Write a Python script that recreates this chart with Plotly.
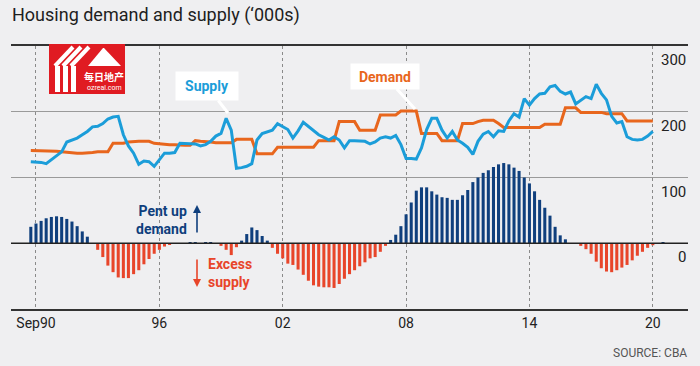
import plotly.graph_objects as go
import pandas as pd

# ---------------- data ----------------
# quarterly, first value = Jun 1990
supply = [124, 124, 123, 121, 127, 133, 139, 154, 157, 160, 165,
          170, 177, 178, 182, 189, 192, 193, 165, 148, 137,
          120, 125, 124, 117, 128, 137, 137, 138, 152, 152,
          152, 151, 148, 150, 155, 163, 167, 190, 172, 114,
          115, 117, 121, 157, 167, 170, 172, 182, 177, 173,
          160, 171, 184, 178, 172, 165, 161, 157, 162, 157,
          145, 156, 156, 156, 155, 151, 154, 160, 162, 160,
          164, 150, 129, 129, 128, 145, 173, 190, 190, 172,
          160, 170, 157, 152, 146, 135, 155, 166, 170, 162,
          171, 170, 186, 197, 192, 220, 210, 220, 227, 228,
          238, 240, 231, 227, 230, 212, 218, 223, 220, 242,
          228, 218, 193, 183, 185, 162, 158, 157, 158, 163, 170]

demand = [141, 141, 141, 141, 141, 140, 139, 138, 137, 137, 137,
          137, 138, 139, 139, 139, 152, 152, 152, 154, 155,
          155, 155, 155, 152, 151, 151, 150, 150, 149, 149,
          149, 156, 155, 155, 154, 153, 153, 153, 153, 158,
          158, 158, 158, 136, 136, 136, 136, 146, 146, 146,
          146, 146, 146, 146, 146, 156, 156, 156, 156, 185,
          185, 185, 185, 172, 172, 172, 172, 195, 195, 195,
          195, 201, 201, 201, 201, 167, 167, 167, 167, 156,
          156, 156, 156, 182, 182, 182, 185, 187, 187, 187,
          182, 176, 176, 176, 176, 176, 176, 176, 176, 181,
          181, 181, 181, 206, 206, 206, 199, 199, 199, 199,
          199, 197, 197, 197, 197, 186, 186, 186, 186, 186, 186]

# pent-up demand / excess supply, quarterly from Jun 1990
gap = [25, 30, 34, 38, 40, 41, 40, 37, 33, 26, 18, 10,
       0,
       -10, -21, -34, -44, -52, -53, -53, -47, -41, -32, -24, -16, -10, -5, -2,
       0, 0, 0, 1, 1, 0, 1, 1, 0,
       -4, -10, -18, -6,
       4, 14, 24, 20, 11, 4,
       -7, -16, -23, -31, -33, -40, -48, -57, -64, -66, -67, -67, -68, -62,
       -54, -47, -41, -35, -29, -23, -21, -13, -4,
       5, 13, 26, 44, 62, 80, 85, 85, 79, 74,
       70, 69, 66, 66, 73, 81, 93, 100, 107, 111,
       116, 120, 122, 120, 115, 110, 100, 91, 79, 66,
       54, 42, 25, 12, 6,
       0, 0,
       -4, -9, -16, -28, -38, -43, -44, -41, -37, -33, -26, -19, -13, -7, -3,
       0, 1]

tick_dates = ["1990-09-01", "1996-09-01", "2002-09-01", "2008-09-01", "2014-09-01", "2020-09-01"]
tick_labels = ["Sep90", "96", "02", "08", "14", "20"]
y_labels = [300, 200, 100, 0]

line_dates = pd.date_range("1990-06-01", periods=len(supply), freq="3MS")
bar_dates = pd.date_range("1990-06-01", periods=len(gap), freq="3MS")

# ---------------- style ----------------
BG = "#efeff1"
BLUE_LINE = "#1b9dd9"
ORANGE = "#e8661d"
BAR_BLUE = "#0f3f7d"
BAR_RED = "#e8452a"
FONT = "Roboto"

W, H = 700, 366
L, R, T, B = 11, 12, 46, 57
PW, PH = W - L - R, H - T - B


def px(xp):
    return (xp - L) / PW


def py(yp):
    return (H - B - yp) / PH


fig = go.Figure()

fig.add_trace(go.Bar(
    x=bar_dates, y=gap,
    marker_color=[BAR_BLUE if v >= 0 else BAR_RED for v in gap],
    marker_line_width=0, hoverinfo="skip", showlegend=False))

fig.add_trace(go.Scatter(
    x=line_dates, y=demand, mode="lines",
    line=dict(color=ORANGE, width=3), showlegend=False))

fig.add_trace(go.Scatter(
    x=line_dates, y=supply, mode="lines",
    line=dict(color=BLUE_LINE, width=3), showlegend=False))

annotations = []

# title
annotations.append(dict(xref="paper", yref="paper", x=px(10), y=py(15),
                        xanchor="left", yanchor="middle", showarrow=False,
                        text="Housing demand and supply (\u2018000s)",
                        font=dict(family=FONT, size=18, color="#1e1e1e")))
# source
annotations.append(dict(xref="paper", yref="paper", x=px(689), y=py(353),
                        xanchor="right", yanchor="middle", showarrow=False,
                        text="SOURCE: CBA",
                        font=dict(family=FONT, size=12, color="#555")))
# y labels
for v in y_labels:
    annotations.append(dict(xref="paper", yref="y", x=1.0, y=v,
                            xanchor="right", yanchor="top", yshift=-3,
                            showarrow=False, text=str(v),
                            font=dict(family=FONT, size=15, color="#222")))

# Supply label
annotations.append(dict(xref="paper", yref="paper", x=px(228), y=py(113),
                        ax=-21, ay=-27, showarrow=True, arrowhead=0,
                        arrowwidth=3, arrowcolor="white",
                        text="<b>Supply</b>", bgcolor="white",
                        width=56, height=22, borderpad=3,
                        font=dict(family=FONT, size=14, color=BLUE_LINE)))
# Demand label
annotations.append(dict(xref="paper", yref="paper", x=px(415), y=py(109),
                        ax=-30, ay=-33, showarrow=True, arrowhead=0,
                        arrowwidth=3, arrowcolor="white",
                        text="<b>Demand</b>", bgcolor="white",
                        width=64, height=21, borderpad=2,
                        font=dict(family=FONT, size=14, color=ORANGE)))

# Pent up demand
annotations.append(dict(xref="paper", yref="paper", x=px(189), y=py(220),
                        xanchor="right", yanchor="middle", showarrow=False,
                        align="right", text="<b>Pent up<br>demand</b>",
                        font=dict(family=FONT, size=14, color=BAR_BLUE)))
annotations.append(dict(xref="paper", yref="paper", x=px(197), y=py(205),
                        ax=0, ay=29, showarrow=True, arrowhead=2, arrowsize=1,
                        arrowwidth=1.6, arrowcolor=BAR_BLUE, text=""))
# Excess supply
annotations.append(dict(xref="paper", yref="paper", x=px(206), y=py(273),
                        xanchor="left", yanchor="middle", showarrow=False,
                        align="left", text="<b>Excess<br>supply</b>",
                        font=dict(family=FONT, size=14, color=BAR_RED)))
annotations.append(dict(xref="paper", yref="paper", x=px(197), y=py(287),
                        ax=0, ay=-29, showarrow=True, arrowhead=2, arrowsize=1,
                        arrowwidth=1.6, arrowcolor=BAR_RED, text=""))

# watermark logo
annotations.append(dict(xref="paper", yref="paper", x=px(104), y=py(76),
                        xanchor="center", yanchor="middle", showarrow=False,
                        text="<b>每日地产</b>",
                        font=dict(family="Noto Sans CJK SC", size=10, color="white")))
annotations.append(dict(xref="paper", yref="paper", x=px(104), y=py(88),
                        xanchor="center", yanchor="middle", showarrow=False,
                        text="ozreal.com",
                        font=dict(family=FONT, size=7, color="white")))

shapes = [
    dict(type="rect", xref="paper", yref="paper", x0=px(49), x1=px(125),
         y0=py(94), y1=py(44), fillcolor="#e01b22", line_width=0, layer="above"),
    dict(type="path", xref="paper", yref="paper", layer="above",
         path="M {a},{b} L {c},{d} L {e},{f} L {g},{b} Z".format(
             a=px(88), b=py(66), c=px(103), d=py(48), e=px(104), f=py(48), g=px(121)),
         fillcolor="white", line_width=0),
    dict(type="rect", xref="paper", yref="paper", x0=px(55), x1=px(60),
         y0=py(92), y1=py(66), fillcolor="white", line_width=0, layer="above"),
    dict(type="rect", xref="paper", yref="paper", x0=px(63), x1=px(68),
         y0=py(92), y1=py(66), fillcolor="white", line_width=0, layer="above"),
    dict(type="rect", xref="paper", yref="paper", x0=px(71), x1=px(76),
         y0=py(92), y1=py(66), fillcolor="white", line_width=0, layer="above"),
    dict(type="line", xref="paper", yref="paper", x0=px(55), x1=px(73),
         y0=py(66), y1=py(47), line=dict(color="white", width=4), layer="above"),
    dict(type="line", xref="paper", yref="paper", x0=px(63), x1=px(81),
         y0=py(66), y1=py(47), line=dict(color="white", width=4), layer="above"),
    dict(type="line", xref="paper", yref="paper", x0=px(71), x1=px(89),
         y0=py(66), y1=py(47), line=dict(color="white", width=4), layer="above"),
    # zero line
    dict(type="line", xref="paper", yref="y", x0=0, x1=1, y0=0, y1=0,
         line=dict(color="#222", width=1.5), layer="above"),
]

fig.update_layout(
    width=W, height=H,
    margin=dict(l=L, r=R, t=T, b=B),
    paper_bgcolor=BG, plot_bgcolor=BG,
    bargap=0.4,
    showlegend=False,
    annotations=annotations,
    shapes=shapes,
    font=dict(family=FONT, color="#222"),
    xaxis=dict(
        type="date",
        range=["1989-06-14", "2022-05-19"],
        tickvals=tick_dates, ticktext=tick_labels,
        showgrid=True, gridcolor="#8a8a8a", griddash="dot", gridwidth=1,
        showline=True, linecolor="#333", linewidth=2, mirror=True,
        ticks="", tickfont=dict(family=FONT, size=14, color="#222"),
        zeroline=False, fixedrange=True,
    ),
    yaxis=dict(
        range=[-100, 300],
        tickvals=[100, 200], showticklabels=False,
        showgrid=True, gridcolor="#9a9a9a", gridwidth=1,
        zeroline=False, showline=False, ticks="", fixedrange=True,
    ),
)

fig.write_html(
    "out.html",
    config={"displayModeBar": False},
    post_script="document.body.style.margin='0';document.body.style.background='" + BG + "';",
)
